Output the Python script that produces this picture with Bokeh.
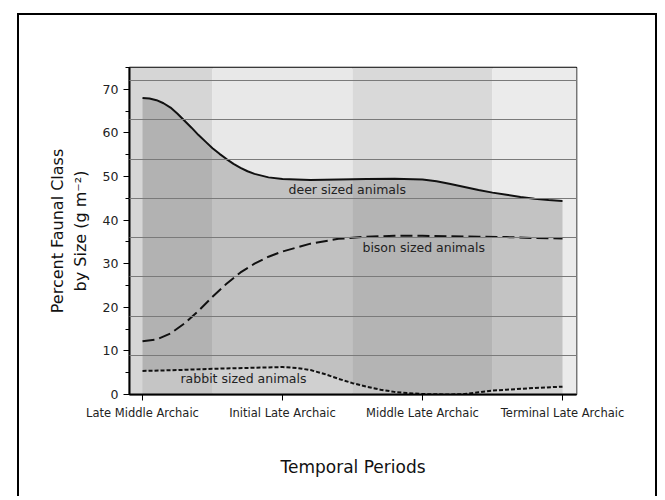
from bokeh.plotting import figure
from bokeh.models import FixedTicker, SingleIntervalTicker, Label
from bokeh.embed import file_html
from bokeh.resources import INLINE

# ---- data ----
periods = ["Late Middle Archaic", "Initial Late Archaic", "Middle Late Archaic", "Terminal Late Archaic"]
band_colors = ["#d6d6d6", "#e8e8e8", "#d9d9d9", "#ebebeb"]

deer_x = [0, 0.05, 0.1, 0.15, 0.2, 0.25, 0.3, 0.35, 0.4, 0.45, 0.5, 0.55, 0.6, 0.65, 0.7, 0.75, 0.8,
          0.9, 1.0, 1.2, 1.4, 1.6, 1.8, 2.0, 2.1, 2.2, 2.3, 2.4, 2.5, 2.6, 2.7, 2.8, 2.9, 3.0]
deer_y = [68.0, 67.9, 67.5, 66.8, 65.8, 64.4, 62.8, 61.2, 59.5, 58.0, 56.5, 55.2, 54.0, 52.9, 52.0, 51.2, 50.6,
          49.8, 49.4, 49.2, 49.3, 49.4, 49.5, 49.3, 48.9, 48.3, 47.6, 46.9, 46.3, 45.8, 45.3, 44.9, 44.6, 44.4]

bison_x = [0, 0.1, 0.2, 0.3, 0.4, 0.5, 0.6, 0.7, 0.8, 0.9, 1.0, 1.2, 1.4, 1.6, 1.8, 2.0,
           2.2, 2.4, 2.6, 2.8, 3.0]
bison_y = [12.2, 12.6, 14.0, 16.3, 19.2, 22.4, 25.4, 28.0, 30.0, 31.6, 32.8, 34.6, 35.7, 36.2, 36.4, 36.4,
           36.3, 36.2, 36.1, 35.9, 35.8]

rabbit_x = [0, 0.25, 0.5, 0.75, 1.0, 1.1, 1.2, 1.3, 1.4, 1.5, 1.6, 1.7, 1.8, 1.9, 2.0,
            2.2, 2.3, 2.4, 2.5, 2.6, 2.8, 3.0]
rabbit_y = [5.4, 5.6, 5.9, 6.1, 6.3, 6.1, 5.6, 4.7, 3.6, 2.6, 1.8, 1.1, 0.6, 0.3, 0.1,
            0.0, 0.1, 0.5, 0.9, 1.1, 1.5, 1.8]

grid_levels = [9, 18, 27, 36, 45, 54, 63, 72]

FONT = "DejaVu Sans"

p = figure(width=640, height=483, x_range=(-0.093, 3.1), y_range=(0, 75),
           output_backend="svg", toolbar_location=None,
           min_border_left=110, min_border_right=83, min_border_top=52, min_border_bottom=104)
p.styles = {"border": "2px solid black", "border-bottom": "none"}
p.margin = (13, 0, 0, 17)
p.background_fill_color = "white"
p.border_fill_color = "white"
p.outline_line_color = "black"
p.outline_line_width = 1.5

# background bands, one per period
idx = list(range(len(periods)))
lefts = [i - 0.5 if i > 0 else -1 for i in idx]
rights = [i + 0.5 if i < len(periods) - 1 else 4 for i in idx]
p.quad(left=lefts, right=rights, bottom=0, top=75, fill_color=band_colors, line_color=None)

# filled area under deer curve
p.varea(x=deer_x, y1=[0] * len(deer_x), y2=deer_y, fill_color="black", fill_alpha=0.17)
p.varea(x=rabbit_x, y1=[0] * len(rabbit_x), y2=rabbit_y, fill_color="white", fill_alpha=0.25)

# curves
p.line(deer_x, deer_y, line_color="#111111", line_width=2, line_join="round")
p.line(bison_x, bison_y, line_color="#111111", line_width=2, line_dash="12 5", line_join="round")
p.line(rabbit_x, rabbit_y, line_color="#111111", line_width=2, line_dash="4 2", line_join="round")

# labels
for txt, x, y in [("deer sized animals", 1.043, 47.0),
                  ("bison sized animals", 1.571, 33.7),
                  ("rabbit sized animals", 0.271, 3.7)]:
    p.add_layout(Label(x=x, y=y, text=txt, text_font=FONT, text_font_size="12.5px",
                       text_color="#222222", text_baseline="middle", text_align="left"))

# grid
p.xgrid.visible = False
p.ygrid.ticker = FixedTicker(ticks=grid_levels)
p.ygrid.grid_line_color = "#7a7a7a"
p.ygrid.grid_line_width = 1
p.ygrid.level = "guide"

# axes
p.xaxis.ticker = FixedTicker(ticks=idx)
p.xaxis.major_label_overrides = {i: n for i, n in zip(idx, periods)}
p.xaxis.minor_tick_line_color = None
p.yaxis.ticker = SingleIntervalTicker(interval=10, num_minor_ticks=2)

for ax in (p.xaxis[0], p.yaxis[0]):
    ax.axis_line_color = "black"
    ax.axis_line_width = 2
    ax.major_tick_line_color = "black"
    ax.major_tick_in = 0
    ax.major_tick_out = 6
    ax.minor_tick_in = 0
    ax.minor_tick_out = 4
    ax.major_label_text_font = FONT
    ax.major_label_text_color = "#222222"
    ax.axis_label_text_font = FONT
    ax.axis_label_text_font_style = "normal"
    ax.axis_label_text_color = "#111111"

p.xaxis.major_label_text_font_size = "11.5px"
p.yaxis.major_label_text_font_size = "12.5px"
p.xaxis.axis_label = "Temporal Periods"
p.xaxis.axis_label_text_font_size = "17px"
p.xaxis.axis_label_standoff = 34
p.yaxis.axis_label = "Percent Faunal Class\nby Size (g m\u207b\u00b2)"
p.yaxis.axis_label_text_font_size = "16px"
p.yaxis.axis_label_standoff = 10

open("out.html", "w").write(file_html(p, INLINE))
